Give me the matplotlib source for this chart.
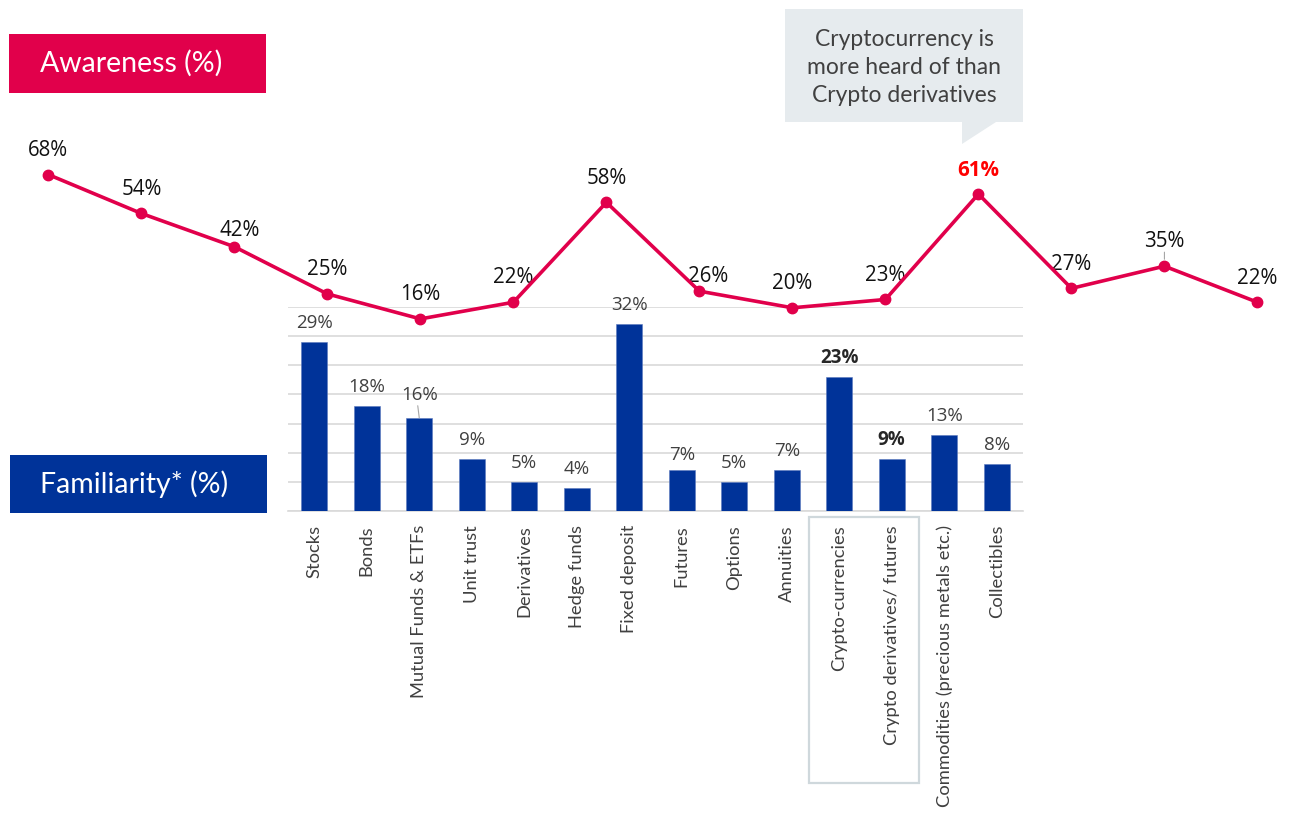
import matplotlib
matplotlib.use('Agg')
import matplotlib.pyplot as plt
from matplotlib.patches import Rectangle, Polygon

# ── data ──
categories = ['Stocks', 'Bonds', 'Mutual Funds & ETFs', 'Unit trust', 'Derivatives',
              'Hedge funds', 'Fixed deposit', 'Futures', 'Options', 'Annuities',
              'Crypto-currencies', 'Crypto derivatives/ futures',
              'Commodities (precious metals etc.)', 'Collectibles']
awareness = [68, 54, 42, 25, 16, 22, 58, 26, 20, 23, 61, 27, 35, 22]
familiarity = [29, 18, 16, 9, 5, 4, 32, 7, 5, 7, 23, 9, 13, 8]

PINK = '#E1004B'
BLUE = '#003399'
GRID = '#D9D9D9'
W, H = 1290, 832
LABEL_FONT = ['Open Sans', 'Noto Sans', 'DejaVu Sans']

fig = plt.figure(figsize=(W / 100, H / 100), dpi=100)
fig.patch.set_facecolor('white')

def rect(left, top, width, height):
    # pixel box (from top-left) -> figure fraction
    return [left / W, (H - top - height) / H, width / W, height / H]

# ── bars (familiarity) ──
axb = fig.add_axes(rect(288, 307, 735, 204))
x = list(range(len(categories)))
axb.bar(x, familiarity, width=0.5, color=BLUE, edgecolor='#5a78bd', linewidth=0.4, zorder=3)
axb.set_xlim(-0.5, len(categories) - 0.5)
axb.set_ylim(0, 35)
axb.set_yticks(range(0, 36, 5))
axb.set_yticklabels([])
axb.tick_params(axis='y', length=0)
axb.yaxis.grid(True, color=GRID, linewidth=1.2, zorder=0)
axb.set_axisbelow(True)
for s in ['top', 'right', 'left']:
    axb.spines[s].set_visible(False)
axb.spines['bottom'].set_color(GRID)
axb.spines['bottom'].set_linewidth(1.2)
axb.set_xticks(x)
axb.set_xticklabels(categories, rotation=90, va='top', ha='center',
                    fontsize=13.2, family='Lato', color='#404040')
axb.tick_params(axis='x', length=0, pad=10)

bold_bars = {10, 11}
bar_off = {2: 23, 7: 15}
for i, v in enumerate(familiarity):
    off = bar_off.get(i, 19)
    axb.annotate(f'{v}%', (i, v), textcoords='offset pixels', xytext=(0, off),
                 ha='center', va='center', fontsize=13.5, family=LABEL_FONT,
                 color='#262626' if i in bold_bars else '#404040',
                 fontweight='bold' if i in bold_bars else 'normal',
                 annotation_clip=False, zorder=5)
# leader line for the shifted 16% label
axb.annotate('', xy=(2, familiarity[2]), xytext=(-1.5, 12), textcoords='offset pixels',
             xycoords='data', arrowprops=dict(arrowstyle='-', color='#A6A6A6', lw=0.8,
                                              shrinkA=0, shrinkB=0))

# ── line (awareness) ──
axl = fig.add_axes([0, (H - 363.3) / H, 1, 222 / H])
axl.set_xlim(-0.52, 13.35)
axl.set_ylim(0, 80)
axl.axis('off')
axl.patch.set_alpha(0)
axl.plot(x, awareness, color=PINK, lw=2.6, marker='o', markersize=7.5,
         solid_joinstyle='round', clip_on=False, zorder=4)
line_off = {2: (5, 16), 5: (0, 25), 7: (9, 15), 12: (0, 25)}
for i, v in enumerate(awareness):
    dx, dy = line_off.get(i, (0, 24))
    hot = (i == 10)
    axl.annotate(f'{v}%', (i, v), textcoords='offset pixels', xytext=(dx, dy),
                 ha='center', va='center', fontsize=14.8, family=LABEL_FONT,
                 color='#FF0000' if hot else '#111111',
                 fontweight='bold' if hot else 'normal', annotation_clip=False)
axl.annotate('', xy=(12, awareness[12]), xytext=(0, 14), textcoords='offset pixels',
             arrowprops=dict(arrowstyle='-', color='#A6A6A6', lw=0.8, shrinkA=0, shrinkB=5))

# ── overlay: legend boxes, callout, highlight ──
axo = fig.add_axes([0, 0, 1, 1])
axo.set_xlim(0, W)
axo.set_ylim(H, 0)
axo.axis('off')
axo.patch.set_alpha(0)

axo.add_patch(Rectangle((9, 34), 257, 59, facecolor=PINK, edgecolor='none'))
axo.text(40, 63, 'Awareness (%)', color='white', fontsize=20.5, family='Lato',
         ha='left', va='center')
axo.add_patch(Rectangle((10, 455), 257, 58, facecolor=BLUE, edgecolor='none'))
axo.text(40, 484, 'Familiarity* (%)', color='white', fontsize=20.5, family='Lato',
         ha='left', va='center')

callout = [(785, 9), (1023, 9), (1023, 122), (996, 122), (962, 144), (962, 122), (785, 122)]
axo.add_patch(Polygon(callout, closed=True, facecolor='#E6EBEE', edgecolor='none'))
axo.text(904, 67.5, 'Cryptocurrency is\nmore heard of than\nCrypto derivatives',
         ha='center', va='center', multialignment='center', fontsize=16.5,
         family='Lato', color='#404040', linespacing=1.4)

axo.add_patch(Rectangle((809, 517), 110, 266, facecolor='none', edgecolor='#CFD8DC', lw=1.6))

fig.savefig('out.png', dpi=100)
